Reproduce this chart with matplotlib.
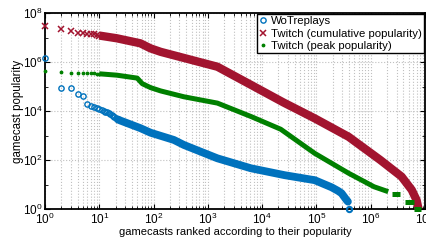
import numpy as np
import matplotlib
matplotlib.use("Agg")
import matplotlib.pyplot as plt
from matplotlib.ticker import LogLocator, NullFormatter

plt.rcParams['font.family'] = ['Liberation Sans', 'DejaVu Sans']
plt.rcParams['mathtext.fontset'] = 'custom'
plt.rcParams['mathtext.rm'] = 'Liberation Sans'
plt.rcParams['mathtext.it'] = 'Liberation Sans:italic'
plt.rcParams['mathtext.bf'] = 'Liberation Sans:bold'

# ---- data ----
labels = ["WoTreplays", "Twitch (cumulative popularity)", "Twitch (peak popularity)"]

wot_head_rank = [1, 2, 3, 4, 5, 6, 7, 8, 9, 10, 11, 12, 13, 14, 15, 16, 17, 18, 19, 20, 22]
wot_head_val = [1.4e6, 8.5e4, 8.5e4, 4.8e4, 4.0e4, 1.9e4, 1.6e4, 1.5e4, 1.3e4, 1.2e4,
                1.1e4, 1.0e4, 9.5e3, 9.0e3, 8.5e3, 7.8e3, 7.0e3, 6.3e3, 5.7e3, 5.0e3, 4.5e3]
wot_tail_rank = [22, 25, 57, 88, 236, 363, 1500, 6200, 2.6e4, 9.3e4, 1.9e5, 2.5e5, 2.9e5, 3.6e5, 3.8e5]
wot_tail_val = [4.5e3, 4.0e3, 2.0e3, 1.3e3, 660, 410, 117, 46, 24, 15, 7.7, 5.5, 4.4, 2.3, 2.0]
wot_end_rank = [4.0e5]
wot_end_val = [1]

cum_head_rank = [1, 2, 3, 4, 5, 6, 7, 8, 9, 10]
cum_head_val = [3.0e7, 2.2e7, 1.8e7, 1.5e7, 1.5e7, 1.4e7, 1.4e7, 1.35e7, 1.3e7, 1.2e7]
cum_tail_rank = [10, 21, 57, 88, 135, 1500, 6300, 2.5e4, 9.3e4, 3.9e5, 1.5e6, 3.7e6, 5.7e6, 7.0e6, 7.6e6]
cum_tail_val = [1.2e7, 9.3e6, 5.8e6, 3.6e6, 2.6e6, 6.4e5, 1.15e5, 2.2e4, 5.0e3, 890, 100, 21, 6, 2.3, 1]

peak_head_rank = [1, 2, 3, 4, 5, 6, 7, 8, 9, 10]
peak_head_val = [4.3e5, 3.8e5, 3.5e5, 3.5e5, 3.5e5, 3.4e5, 3.4e5, 3.4e5, 3.3e5, 3.3e5]
peak_tail_rank = [10, 21, 50, 62, 88, 135, 363, 1500, 6300, 2.2e4, 9.3e4, 3.9e5, 1.15e6, 2.1e6]
peak_tail_val = [3.3e5, 2.9e5, 2.2e5, 1.3e5, 9.0e4, 6.6e4, 3.8e4, 2.1e4, 5.9e3, 1.8e3, 187, 29, 8.1, 5.1]
peak_step_rank = [2.5e6, 3.4e6, np.nan, 4.3e6, 6.2e6, np.nan, 6.2e6, 8.5e6]
peak_step_val = [4, 4, np.nan, 2, 2, np.nan, 1, 1]

xlabel = "gamecasts ranked according to their popularity"
ylabel = "gamecast popularity"

c_blue = "#0072BD"
c_red = "#A2142F"
c_green = "#008000"

fig = plt.figure(figsize=(4.27, 2.40), dpi=100)
ax = fig.add_axes([45/427, 31/240, 380/427, 196/240])
ax.set_xscale('log')
ax.set_yscale('log')

# WoTreplays
ax.plot(wot_tail_rank, wot_tail_val, '-', color=c_blue, lw=5.6, solid_capstyle='round', clip_on=False, zorder=3)
ax.plot(wot_head_rank, wot_head_val, 'o', color=c_blue, mfc='none', ms=3.8, mew=1.0, clip_on=False, zorder=3,
        label=labels[0])
ax.plot(wot_end_rank, wot_end_val, 'o', color=c_blue, mfc='none', ms=3.8, mew=1.5, clip_on=False, zorder=3)

# Twitch cumulative
ax.plot(cum_tail_rank, cum_tail_val, '-', color=c_red, lw=6.0, solid_capstyle='butt', clip_on=False, zorder=3)
ax.plot(cum_head_rank, cum_head_val, 'x', color=c_red, ms=3.8, mew=1.1, clip_on=False, zorder=3,
        label=labels[1])

# Twitch peak
ax.plot(peak_tail_rank, peak_tail_val, '-', color=c_green, lw=3.6, solid_capstyle='butt', clip_on=False, zorder=3)
ax.plot(peak_step_rank, peak_step_val, '-', color=c_green, lw=3.6, solid_capstyle='butt', clip_on=False, zorder=3)
ax.plot(peak_head_rank, peak_head_val, '.', color=c_green, ms=3.5, clip_on=False, zorder=3,
        label=labels[2])

ax.set_xlim(1, 1e7)
ax.set_ylim(1, 1e8)

ax.xaxis.set_major_locator(LogLocator(base=10, numticks=20))
ax.xaxis.set_minor_locator(LogLocator(base=10, subs=np.arange(2, 10), numticks=20))
ax.xaxis.set_minor_formatter(NullFormatter())
ax.yaxis.set_major_locator(LogLocator(base=100, numticks=20))
ax.yaxis.set_minor_locator(LogLocator(base=10, subs=[1.0], numticks=20))
ax.yaxis.set_minor_formatter(NullFormatter())

ax.grid(True, which='major', axis='both', color='#c0c0c0', linestyle=':', lw=0.8)
ax.grid(True, which='minor', axis='x', color='#c0c0c0', linestyle=':', lw=0.8)
ax.set_axisbelow(True)

ax.tick_params(which='both', direction='in', top=True, right=True, labelsize=8.5, pad=2)
ax.tick_params(which='major', length=3.5, width=0.8)
ax.tick_params(which='minor', length=2, width=0.6)
for s in ax.spines.values():
    s.set_linewidth(1.3)

ax.set_xlabel(xlabel, fontsize=8, labelpad=0)
ax.set_ylabel(ylabel, fontsize=8.3, labelpad=-1)

leg = ax.legend(loc='upper right', fontsize=8.2, frameon=True, fancybox=False, edgecolor='black',
                framealpha=1, borderaxespad=0.1, handlelength=0.6, handletextpad=0.4,
                borderpad=0.2, labelspacing=0.2)
leg.get_frame().set_linewidth(1.0)

fig.savefig("out.png", dpi=100)
